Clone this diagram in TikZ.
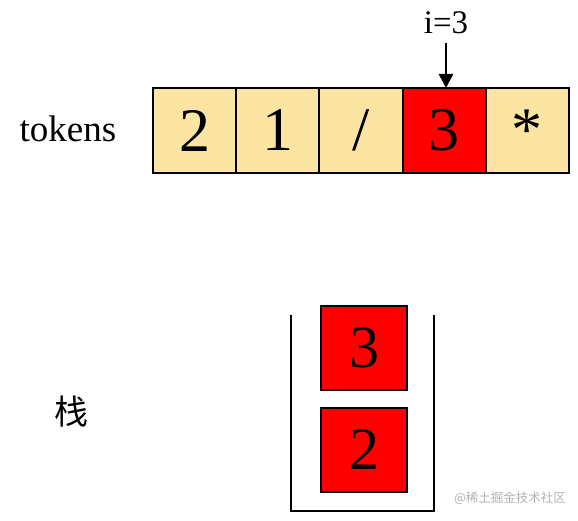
\documentclass[tikz,border=0pt]{standalone}
\usepackage{fontspec}
\setmainfont{Liberation Serif}
\newfontfamily\cjkfont{Noto Sans CJK SC}
\usetikzlibrary{arrows.meta}
\definecolor{tokfill}{RGB}{252,229,162}
\definecolor{hot}{RGB}{255,0,0}
\tikzset{
  cell/.style={draw=black, line width=2pt, fill=tokfill, minimum width=83.2pt, minimum height=85pt, inner sep=0pt, font=\fontsize{62}{62}\selectfont, anchor=north west},
  hotcell/.style={cell, fill=hot},
  stackbox/.style={draw=black, line width=2pt, fill=hot, minimum width=86pt, minimum height=84pt, inner sep=0pt, font=\fontsize{60}{60}\selectfont, anchor=north west},
  wall/.style={line width=2.5pt},
  lbl/.style={inner sep=0pt, font=\fontsize{37}{37}\selectfont},
}
\begin{document}
\begin{tikzpicture}[x=1pt, y=-1pt]
\useasboundingbox (0,0) rectangle (578,521);
\node[cell] (c1) at (152,87) {2};
\node[cell] (c2) at (235.2,87) {1};
\node[cell] (c3) at (318.4,87) {/};
\node[hotcell] (c4) at (401.6,87) {3};
\node[cell] (c5) at (484.8,87) {*};
\node[lbl] (tok) at (68,129) {tokens};
\node[inner sep=0pt, font=\fontsize{33}{33}\selectfont] (iv) at (446,23) {i=3};
\coordinate (atop) at (446,43);
\draw[line width=2.6pt, -{Triangle[length=14pt,width=14pt]}] (atop) -- ([yshift=-1pt]c4.north -| atop);
% stack
\coordinate (wl) at (291,315);
\coordinate (bl) at (291,511);
\coordinate (br) at (434,511);
\coordinate (wr) at (434,315);
\draw[wall] (wl) -- (bl) -- (br) -- (wr);
\node[stackbox] (s3) at (320,305) {3};
\node[stackbox] (s2) at (320,407) {2};
\node[inner sep=0pt, font=\cjkfont\fontsize{34}{34}\selectfont] (zh) at (71,412) {栈};
\node[inner sep=0pt, text=black!30, font=\cjkfont\fontsize{12.5}{12.5}\selectfont] (wm) at (510,498) {@稀土掘金技术社区};
\end{tikzpicture}
\end{document}
